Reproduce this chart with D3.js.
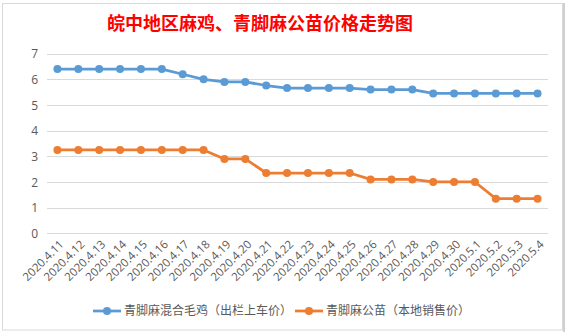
<!DOCTYPE html>
<html><head><meta charset="utf-8">
<script src="https://cdn.jsdelivr.net/npm/d3@7"></script>
<style>body{margin:0;background:#fff;}svg{display:block;}</style>
</head><body>
<svg id="c" width="566" height="333"></svg>
<script>
const categories = ["2020.4.11","2020.4.12","2020.4.13","2020.4.14","2020.4.15","2020.4.16","2020.4.17","2020.4.18","2020.4.19","2020.4.20","2020.4.21","2020.4.22","2020.4.23","2020.4.24","2020.4.25","2020.4.26","2020.4.27","2020.4.28","2020.4.29","2020.4.30","2020.5.1","2020.5.2","2020.5.3","2020.5.4"];
const seriesNames = ["青脚麻混合毛鸡（出栏上车价）","青脚麻公苗（本地销售价）"];
const mixedChicken = [6.4,6.4,6.4,6.4,6.4,6.4,6.2,6.0,5.9,5.9,5.76,5.66,5.66,5.66,5.66,5.6,5.6,5.6,5.45,5.45,5.45,5.45,5.45,5.45];
const maleChicks = [3.25,3.25,3.25,3.25,3.25,3.25,3.25,3.25,2.9,2.9,2.35,2.35,2.35,2.35,2.35,2.1,2.1,2.1,2.0,2.0,2.0,1.35,1.35,1.35];
const yTicks = [0,1,2,3,4,5,6,7];
const titleText = "皖中地区麻鸡、青脚麻公苗价格走势图";
const colors = ["#5B9BD5","#ED7D31"];

const svg = d3.select("#c");
const bg = svg.append("g");
bg.append("rect").attr("x",0).attr("y",0).attr("width",566).attr("height",333).attr("fill","#fff");
bg.append("rect").attr("x",2.5).attr("y",3.5).attr("width",560).attr("height",326.5)
  .attr("fill","#fff").attr("stroke","#d9d9d9").attr("stroke-width",1);
bg.append("line").attr("x1",564).attr("x2",564).attr("y1",3).attr("y2",332).attr("stroke","#d0d0d0").attr("stroke-width",2);

const x = d3.scaleBand().domain(categories).range([47,548]);
const y = d3.scaleLinear().domain([0,7]).range([233.3,53.7]);

svg.append("g").selectAll("line").data(yTicks).join("line")
  .attr("x1",47).attr("x2",548)
  .attr("y1",d=>Math.round(y(d))+0.5).attr("y2",d=>Math.round(y(d))+0.5)
  .attr("stroke","#d9d9d9").attr("stroke-width",1);

const yAxis = d3.axisLeft(y).tickValues(yTicks).tickFormat(d3.format("d")).tickSize(0).tickPadding(0);
const gy = svg.append("g").attr("transform","translate(38,0)").call(yAxis);
gy.select(".domain").remove();
gy.selectAll("text").attr("font-family","'Open Sans', 'Noto Sans', sans-serif").attr("font-size",12).attr("fill","#595959").attr("dy","0.35em");

const xAxis = d3.axisBottom(x).tickSize(0).tickPadding(0);
const gx = svg.append("g").attr("transform","translate(0,233)").call(xAxis);
gx.select(".domain").remove();
gx.selectAll("text")
  .attr("font-family","'Open Sans', 'Noto Sans', sans-serif").attr("font-size",11.5).attr("fill","#595959")
  .attr("text-anchor","end").attr("y",0).attr("dy",0)
  .attr("transform","translate(7,12) rotate(-45)");

svg.append("text").attr("x",260).attr("y",30).attr("text-anchor","middle")
  .attr("font-family","'Noto Sans CJK SC', sans-serif").attr("font-weight","bold")
  .attr("font-size",18).attr("fill","#FF0000").text(titleText);

const allSeries = [mixedChicken, maleChicks];
const line = d3.line().x((d,i)=>x(categories[i])+x.bandwidth()/2).y(d=>y(d));
allSeries.forEach((s,k)=>{
  const g = svg.append("g");
  g.append("path").datum(s).attr("d",line).attr("fill","none")
    .attr("stroke",colors[k]).attr("stroke-width",2.75).attr("stroke-linejoin","round");
  g.selectAll("circle").data(s).join("circle")
    .attr("cx",(d,i)=>x(categories[i])+x.bandwidth()/2).attr("cy",d=>y(d))
    .attr("r",4).attr("fill",colors[k]);
});

const legendX = [93,295];
seriesNames.forEach((n,k)=>{
  const g = svg.append("g").attr("transform",`translate(${legendX[k]},311)`);
  g.append("line").attr("x1",0).attr("x2",28).attr("y1",0).attr("y2",0)
    .attr("stroke",colors[k]).attr("stroke-width",2.75);
  g.append("circle").attr("cx",14).attr("cy",0).attr("r",4).attr("fill",colors[k]);
  g.append("text").attr("x",31).attr("y",0).attr("dy","0.35em")
    .attr("font-family","'Noto Sans CJK SC', sans-serif").attr("font-size",12)
    .attr("fill","#595959").text(n);
});
</script>
</body></html>
